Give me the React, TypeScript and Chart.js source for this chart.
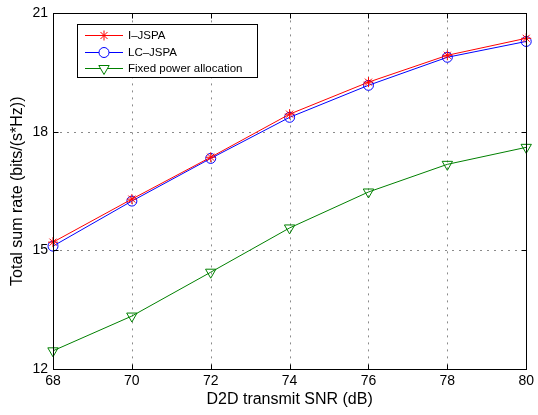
import React, { useEffect, useRef } from "react";
import { Chart, registerables } from "chart.js";
import { drawPoint } from "chart.js/helpers";

Chart.register(...registerables);

const snr = [68, 70, 72, 74, 76, 78, 80];
const ijspa = [15.21, 16.3, 17.36, 18.45, 19.26, 19.94, 20.37];
const lcjspa = [15.11, 16.25, 17.33, 18.37, 19.18, 19.89, 20.29];
const fixedPower = [12.46, 13.34, 14.45, 15.57, 16.48, 17.18, 17.61];
const xTicks = [68, 70, 72, 74, 76, 78, 80];
const yTicks = [12, 15, 18, 21];
const seriesNames = ["I\u2013JSPA", "LC\u2013JSPA", "Fixed power allocation"];

const FONT = "'Liberation Sans', Arial, sans-serif";

const styles = [
  { color: "#ff0000", pointStyle: "star", radius: 5, rotation: 0 },
  { color: "#0000ff", pointStyle: "circle", radius: 5, rotation: 0 },
  { color: "#008000", pointStyle: "triangle", radius: 6, rotation: 180 },
];

const framePlugin = {
  id: "frame",
  beforeDatasetsDraw(chart: any) {
    const { ctx, chartArea: a, scales } = chart;
    ctx.save();
    ctx.strokeStyle = "#8a8a8a";
    ctx.lineWidth = 1;
    ctx.setLineDash([2, 5]);
    xTicks.forEach((v) => {
      const x = Math.round(scales.x.getPixelForValue(v)) + 0.5;
      if (x < a.left + 2 || x > a.right - 2) return;
      ctx.beginPath();
      ctx.moveTo(x, a.top);
      ctx.lineTo(x, a.bottom);
      ctx.stroke();
    });
    yTicks.forEach((v) => {
      const y = Math.round(scales.y.getPixelForValue(v)) + 0.5;
      if (y < a.top + 2 || y > a.bottom - 2) return;
      ctx.beginPath();
      ctx.moveTo(a.left, y);
      ctx.lineTo(a.right, y);
      ctx.stroke();
    });
    ctx.restore();
  },
  afterDraw(chart: any) {
    const { ctx, chartArea: a, scales } = chart;
    ctx.save();
    ctx.strokeStyle = "#000";
    ctx.lineWidth = 1;
    ctx.setLineDash([]);
    const L = Math.round(a.left) + 0.5;
    const R = Math.round(a.right) + 0.5;
    const T = Math.round(a.top) + 0.5;
    const B = Math.round(a.bottom) + 0.5;
    const tl = 5;
    xTicks.forEach((v) => {
      const x = Math.round(scales.x.getPixelForValue(v)) + 0.5;
      ctx.beginPath();
      ctx.moveTo(x, B);
      ctx.lineTo(x, B - tl);
      ctx.moveTo(x, T);
      ctx.lineTo(x, T + tl);
      ctx.stroke();
    });
    yTicks.forEach((v) => {
      const y = Math.round(scales.y.getPixelForValue(v)) + 0.5;
      ctx.beginPath();
      ctx.moveTo(L, y);
      ctx.lineTo(L + tl, y);
      ctx.moveTo(R, y);
      ctx.lineTo(R - tl, y);
      ctx.stroke();
    });
    ctx.strokeRect(L, T, R - L, B - T);

    // legend
    const bx = 77.5, by = 24.5, bw = 180, bh = 53;
    ctx.fillStyle = "#fff";
    ctx.fillRect(bx, by, bw, bh);
    ctx.strokeStyle = "#000";
    ctx.strokeRect(bx, by, bw, bh);
    const rows = [35, 52, 68];
    ctx.font = `11.5px ${FONT}`;
    ctx.textBaseline = "middle";
    ctx.textAlign = "left";
    seriesNames.forEach((name, i) => {
      const s = styles[i];
      const y = rows[i] + 0.5;
      ctx.strokeStyle = s.color;
      ctx.lineWidth = 1;
      ctx.beginPath();
      ctx.moveTo(85, y);
      ctx.lineTo(123, y);
      ctx.stroke();
      ctx.fillStyle = "#fff";
      drawPoint(
        ctx,
        {
          pointStyle: s.pointStyle,
          radius: s.radius,
          rotation: s.rotation,
          borderWidth: 1,
        } as any,
        104,
        y
      );
      ctx.fillStyle = "#000";
      ctx.fillText(name, 128, rows[i] + 0.5);
    });
    ctx.restore();
  },
};

export default function App() {
  const ref = useRef<HTMLCanvasElement | null>(null);
  useEffect(() => {
    if (!ref.current) return;
    const data = [ijspa, lcjspa, fixedPower];
    const chart = new Chart(ref.current, {
      type: "line",
      data: {
        datasets: data.map((vals, i) => ({
          label: seriesNames[i],
          data: snr.map((x, j) => ({ x, y: vals[j] })),
          borderColor: styles[i].color,
          backgroundColor: "rgba(255,255,255,0)",
          pointBorderColor: styles[i].color,
          pointBackgroundColor: "rgba(255,255,255,0)",
          pointStyle: styles[i].pointStyle as any,
          pointRadius: styles[i].radius,
          pointRotation: styles[i].rotation,
          pointBorderWidth: 1,
          borderWidth: 1,
          tension: 0,
          fill: false,
          clip: false as any,
        })),
      },
      options: {
        animation: false,
        responsive: false,
        devicePixelRatio: 1,
        layout: { padding: { top: 13, right: 9, left: 0, bottom: 0 } },
        plugins: { legend: { display: false }, tooltip: { enabled: false } },
        scales: {
          x: {
            type: "linear",
            min: 68,
            max: 80,
            afterFit: (s: any) => {
              s.height = 46;
            },
            afterBuildTicks: (s: any) => {
              s.ticks = xTicks.map((v) => ({ value: v }));
            },
            grid: { display: false, drawTicks: false },
            border: { display: false },
            ticks: {
              color: "#000",
              padding: 4,
              maxRotation: 0,
              autoSkip: false,
              font: { family: FONT, size: 14 },
            },
            title: {
              display: true,
              text: "D2D transmit SNR (dB)",
              color: "#000",
              font: { family: FONT, size: 16 },
              padding: { top: 0, bottom: 6 },
            },
          },
          y: {
            type: "linear",
            min: 12,
            max: 21,
            afterFit: (s: any) => {
              s.width = 53;
            },
            afterBuildTicks: (s: any) => {
              s.ticks = yTicks.map((v) => ({ value: v }));
            },
            grid: { display: false, drawTicks: false },
            border: { display: false },
            ticks: {
              color: "#000",
              padding: 5,
              autoSkip: false,
              font: { family: FONT, size: 14 },
            },
            title: {
              display: true,
              text: "Total sum rate (bits/(s*Hz))",
              color: "#000",
              font: { family: FONT, size: 16 },
              padding: { top: 8, bottom: 0 },
            },
          },
        },
      },
      plugins: [framePlugin],
    });
    return () => chart.destroy();
  }, []);
  return (
    <div style={{ position: "fixed", left: 0, top: 0, width: 538, height: 415, background: "#fff" }}>
      <canvas ref={ref} width={538} height={415} style={{ display: "block", width: 538, height: 415 }} />
    </div>
  );
}
